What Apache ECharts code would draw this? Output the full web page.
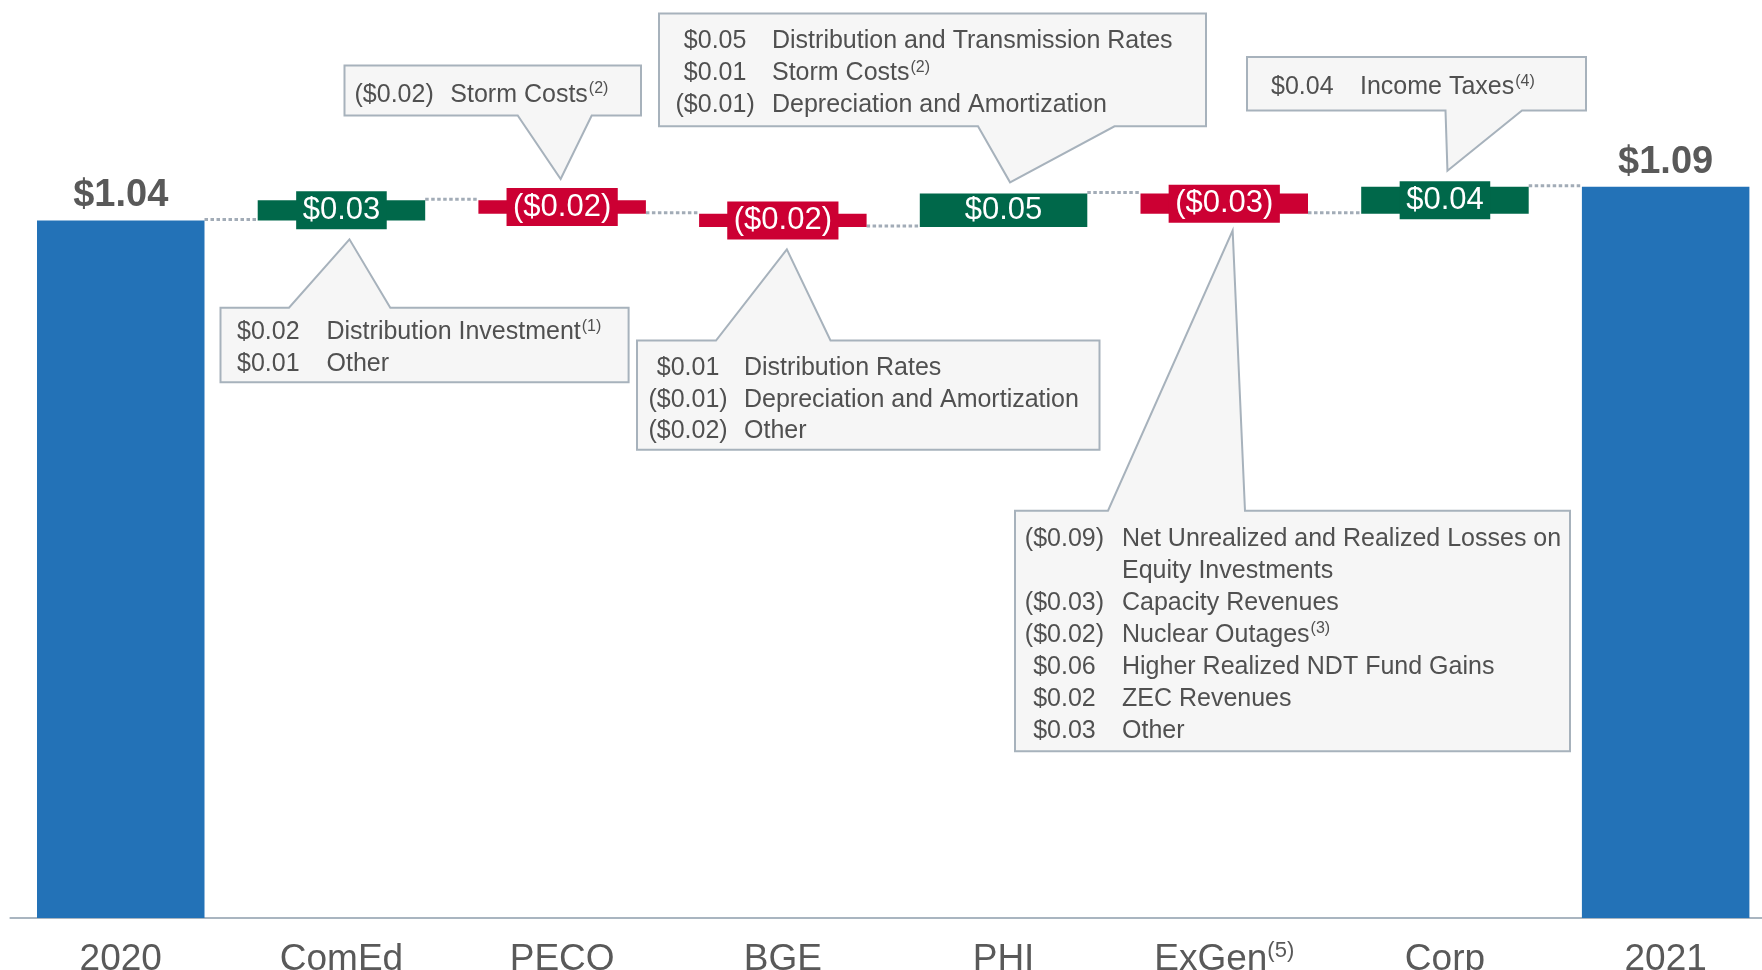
<!DOCTYPE html>
<html><head><meta charset="utf-8">
<script src="https://cdn.jsdelivr.net/npm/echarts@6/dist/echarts.min.js"></script>
<style>html,body{margin:0;padding:0;background:#fff}#c{width:1762px;height:970px}</style>
</head><body><div id="c"></div>
<script>
// ---------- data ----------
const categories = ['2020', 'ComEd', 'PECO', 'BGE', 'PHI', 'ExGen', 'Corp', '2021'];
const startValue = 1.04;
const endValue = 1.09;
const deltas = [0.03, -0.02, -0.02, 0.05, -0.03, 0.04];
const valueLabels = ['$1.04', '$0.03', '($0.02)', '($0.02)', '$0.05', '($0.03)', '$0.04', '$1.09'];

const comedNotes = [['$0.02', 'Distribution Investment', '(1)'], ['$0.01', 'Other', '']];
const pecoNotes = [['($0.02)', 'Storm Costs', '(2)']];
const bgeNotes = [['$0.01', 'Distribution Rates', ''], ['($0.01)', 'Depreciation and Amortization', ''], ['($0.02)', 'Other', '']];
const phiNotes = [['$0.05', 'Distribution and Transmission Rates', ''], ['$0.01', 'Storm Costs', '(2)'], ['($0.01)', 'Depreciation and Amortization', '']];
const exgenNotes = [['($0.09)', 'Net Unrealized and Realized Losses on', ''], ['', 'Equity Investments', ''], ['($0.03)', 'Capacity Revenues', ''], ['($0.02)', 'Nuclear Outages', '(3)'], ['$0.06', 'Higher Realized NDT Fund Gains', ''], ['$0.02', 'ZEC Revenues', ''], ['$0.03', 'Other', '']];
const corpNotes = [['$0.04', 'Income Taxes', '(4)']];

// ---------- styles ----------
const FONT = '"Liberation Sans", Arial, sans-serif';
const BLUE = '#2372B7', GREEN = '#00684A', RED = '#CC0033';
const TEXT = '#505050', LABEL = '#595959';
const r2 = v => Math.round(v * 1000) / 1000;

// waterfall build
const baseVals = [0], barVals = [startValue], levels = [startValue];
let cum = startValue;
deltas.forEach(d => {
  const nb = d >= 0 ? cum : cum + d;
  baseVals.push(r2(nb));
  barVals.push(r2(Math.abs(d)));
  cum = r2(cum + d);
  levels.push(cum);
});
baseVals.push(0); barVals.push(endValue);

const barItems = barVals.map((v, i) => {
  const isTotal = i === 0 || i === categories.length - 1;
  const color = isTotal ? BLUE : (deltas[i - 1] >= 0 ? GREEN : RED);
  const label = isTotal ? {
    show: true, position: 'top', distance: 5.5, formatter: valueLabels[i],
    color: LABEL, fontSize: 38, fontWeight: 'bold', fontFamily: FONT, lineHeight: 38
  } : {
    show: true, position: 'inside', formatter: valueLabels[i],
    color: '#ffffff', fontSize: 31, fontFamily: FONT, lineHeight: 32,
    backgroundColor: categories[i] === 'PHI' ? 'transparent' : color, padding: [3, 6.5]
  };
  return { value: v, itemStyle: { color }, label };
});

const connectorData = levels.map((v, i) => [i, v]);

const chart = echarts.init(document.getElementById('c'), null, { renderer: 'canvas' });
const BARW = 167.5;
chart.setOption({
  animation: false,
  backgroundColor: '#ffffff',
  grid: { left: 10.4, right: -14, top: 46, bottom: 52, outerBoundsMode: 'none', containLabel: false },
  xAxis: {
    type: 'category', data: categories,
    axisLine: { lineStyle: { color: '#A9B5C0', width: 2 } },
    axisTick: { show: false },
    axisLabel: {
      interval: 0, hideOverlap: false,
      margin: 22, color: LABEL, fontSize: 37, fontFamily: FONT, lineHeight: 40,
      formatter: v => v === 'ExGen' ? '{a|ExGen}{s|(5)}' : v,
      rich: {
        a: { fontSize: 37, fontFamily: FONT, color: LABEL, lineHeight: 40 },
        s: { fontSize: 22, fontFamily: FONT, color: LABEL, lineHeight: 24, verticalAlign: 'top' }
      }
    }
  },
  yAxis: { type: 'value', min: 0, max: 1.3, show: false },
  series: [
    { type: 'bar', stack: 'w', data: baseVals, barWidth: BARW, itemStyle: { color: 'transparent' }, silent: true },
    { type: 'bar', stack: 'w', data: barItems, barWidth: BARW },
    {
      type: 'custom', data: connectorData, z: 1,
      renderItem: (params, api) => {
        const i = api.value(0), v = api.value(1);
        const p1 = api.coord([i, v]), p2 = api.coord([i + 1, v]);
        return {
          type: 'line',
          shape: { x1: p1[0] + BARW / 2, y1: p1[1] - 1, x2: p2[0] - BARW / 2, y2: p2[1] - 1 },
          style: { stroke: '#A2ACB7', lineWidth: 3, lineDash: [3.5, 2.5] }
        };
      }
    }
  ]
});

// ---------- callouts (annotation layout) ----------
const callouts = [
  { cat: 1, notes: comedNotes, box: [220.5, 307.7, 628.6, 382.3], side: 'top', base: [289, 390.3], dx: 8, gap: 29, valX: 228.7, descX: 326.5, y0: 341, step: 32 },
  { cat: 2, notes: pecoNotes, box: [344.5, 65.5, 641, 115.5], side: 'bottom', base: [517.7, 591.7], dx: -1.5, gap: 28, valX: 354.5, descX: 450.3, y0: 103.5, step: 32 },
  { cat: 3, notes: bgeNotes, box: [637, 340.5, 1099.5, 449.7], side: 'top', base: [716, 830.5], dx: 4, gap: 29, valX: 648.4, descX: 744, y0: 376.5, step: 31.8 },
  { cat: 4, notes: phiNotes, box: [659, 13.4, 1206, 126.3], side: 'bottom', base: [978, 1114.5], dx: 6.5, gap: 28, valX: 675.5, descX: 772, y0: 50, step: 32 },
  { cat: 5, notes: exgenNotes, box: [1015, 510.7, 1570, 751.3], side: 'top', base: [1108, 1245], dx: 8.4, gap: 27, valX: 1024.8, descX: 1122, y0: 547.5, step: 32 },
  { cat: 6, notes: corpNotes, box: [1247, 57, 1586, 110.4], side: 'bottom', base: [1445.5, 1522], dx: 2.5, gap: 29.5, valX: 1262.7, descX: 1360, y0: 96, step: 32 }
];

const mctx = document.createElement('canvas').getContext('2d');
function measure(t, size) { mctx.font = size + 'px "Liberation Sans"'; return mctx.measureText(t).width; }
const FS = 25, SUP = 16;
const graphics = [];
callouts.forEach(c => {
  const mid = r2(baseVals[c.cat] + barVals[c.cat] / 2);
  const p = chart.convertToPixel({ gridIndex: 0 }, [c.cat, mid]);
  const tip = [p[0] + c.dx, c.side === 'top' ? p[1] + c.gap : p[1] - c.gap];
  const [x0, y0, x1, y1] = c.box;
  const pts = c.side === 'top'
    ? [[x0, y0], [c.base[0], y0], tip, [c.base[1], y0], [x1, y0], [x1, y1], [x0, y1]]
    : [[x0, y0], [x1, y0], [x1, y1], [c.base[1], y1], tip, [c.base[0], y1], [x0, y1]];
  graphics.push({ type: 'polygon', z: 50, shape: { points: pts }, style: { fill: '#F6F6F6', stroke: '#A7B2BC', lineWidth: 2 } });
  const parenW = measure('(', FS);
  c.notes.forEach((n, k) => {
    const base = c.y0 + k * c.step;
    const ym = base - 0.3465 * FS;
    if (n[0]) {
      graphics.push({ type: 'text', z: 51, style: { x: n[0][0] === '(' ? c.valX : c.valX + parenW, y: ym, text: n[0], font: FS + 'px ' + FONT, fill: TEXT, verticalAlign: 'middle', align: 'left' } });
    }
    graphics.push({ type: 'text', z: 51, style: { x: c.descX, y: ym, text: n[1], font: FS + 'px ' + FONT, fill: TEXT, verticalAlign: 'middle', align: 'left' } });
    if (n[2]) {
      const w = measure(n[1], FS);
      graphics.push({ type: 'text', z: 51, style: { x: c.descX + w + 1, y: base - 9 - 0.3465 * SUP, text: n[2], font: SUP + 'px ' + FONT, fill: TEXT, verticalAlign: 'middle', align: 'left' } });
    }
  });
});
chart.setOption({ graphic: graphics });
</script>
</body></html>
